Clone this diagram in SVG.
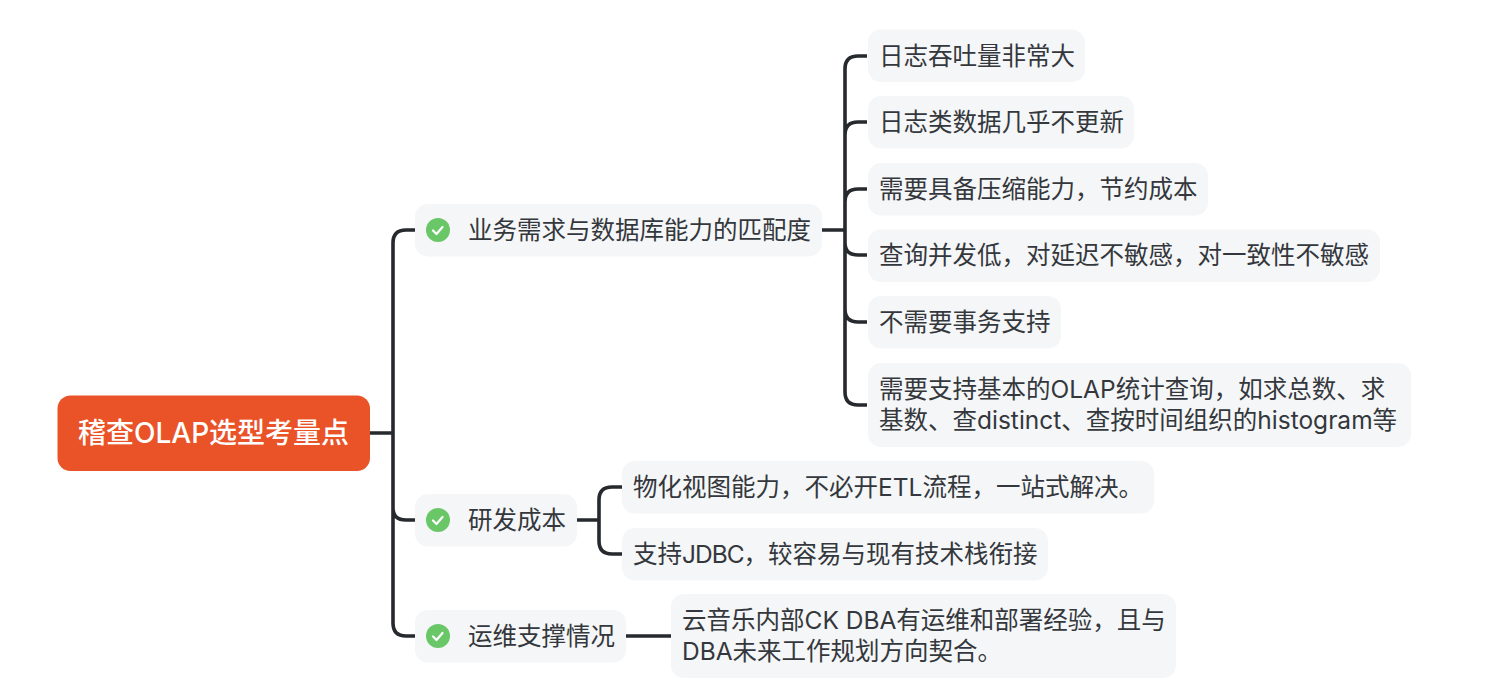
<svg xmlns="http://www.w3.org/2000/svg" width="1512" height="694" viewBox="0 0 1512 694">
<style>
text{font-family:"Inter","Noto Sans CJK SC","Noto Sans",sans-serif;font-size:24.5px;fill:#34383c}
.n{fill:#f5f6f8}
.c{fill:none;stroke:#26292d;stroke-width:3.6;stroke-linecap:butt}
.o{fill:#69c768}
.k{fill:none;stroke:#fff;stroke-width:2.2;stroke-linecap:round;stroke-linejoin:round}
</style>
<rect width="1512" height="694" fill="#fff"/>
<g id="connectors">
<path class="c" d="M370 433H393M415 230H406Q393 230 393 243V623Q393 636 406 636H415M393 508Q393 520 406 520H415"/>
<path class="c" d="M822 230H845M867 56H858Q845 56 845 69V392Q845 405 858 405H867M845 135Q845 122 858 122H867M845 202Q845 189 858 189H867M845 243Q845 255 858 255H867M845 309Q845 322 858 322H867"/>
<path class="c" d="M577 520H599M622 487H612Q599 487 599 500V541Q599 554 612 554H622"/>
<path class="c" d="M626 636H671"/>
</g>
<g id="root"><rect x="57.500" y="395.500" width="312.500" height="75.500" rx="13" fill="#ea5227"/><text x="78" y="443" style="fill:#fff;font-size:28px;font-weight:500">稽查OLAP选型考量点</text></g>
<g id="b1"><rect class="n" x="415" y="204" width="407" height="52.500" rx="13"/><circle class="o" cx="438" cy="230" r="12"/><path class="k" d="M433 230.500l3.500 3.500 6-7"/><text x="468" y="239">业务需求与数据库能力的匹配度</text></g>
<g id="b2"><rect class="n" x="415" y="494" width="162" height="52.500" rx="13"/><circle class="o" cx="438" cy="520" r="12"/><path class="k" d="M433 520.500l3.500 3.500 6-7"/><text x="468" y="529">研发成本</text></g>
<g id="b3"><rect class="n" x="415" y="610" width="211" height="52.500" rx="13"/><circle class="o" cx="438" cy="636" r="12"/><path class="k" d="M433 636.500l3.500 3.500 6-7"/><text x="468" y="645">运维支撑情况</text></g>
<g id="l1"><rect class="n" x="868" y="29.500" width="217" height="52.500" rx="13"/><text x="879" y="65">日志吞吐量非常大</text></g>
<g id="l2"><rect class="n" x="868" y="96" width="266" height="52.500" rx="13"/><text x="879" y="131">日志类数据几乎不更新</text></g>
<g id="l3"><rect class="n" x="868" y="163" width="340" height="52.500" rx="13"/><text x="879" y="198">需要具备压缩能力，节约成本</text></g>
<g id="l4"><rect class="n" x="868" y="229.500" width="512" height="52.500" rx="13"/><text x="879" y="264">查询并发低，对延迟不敏感，对一致性不敏感</text></g>
<g id="l5"><rect class="n" x="868" y="296" width="193" height="52.500" rx="13"/><text x="879" y="331">不需要事务支持</text></g>
<g id="l6"><rect class="n" x="868" y="363" width="543" height="84" rx="13"/><text x="879" y="398">需要支持基本的OLAP统计查询，如求总数、求</text><text x="879" y="429">基数、查distinct、查按时间组织的histogram等</text></g>
<g id="l7"><rect class="n" x="622" y="461" width="532" height="52.500" rx="13"/><text x="633" y="496">物化视图能力，不必开ETL流程，一站式解决。</text></g>
<g id="l8"><rect class="n" x="622" y="528" width="426" height="52.500" rx="13"/><text x="633" y="563">支持<tspan letter-spacing="-1">JDBC</tspan>，较容易与现有技术栈衔接</text></g>
<g id="l9"><rect class="n" x="671" y="594" width="505" height="84" rx="13"/><text x="682" y="629">云音乐内部CK DBA有运维和部署经验，且与</text><text x="682" y="660">DBA未来工作规划方向契合。</text></g>
</svg>
